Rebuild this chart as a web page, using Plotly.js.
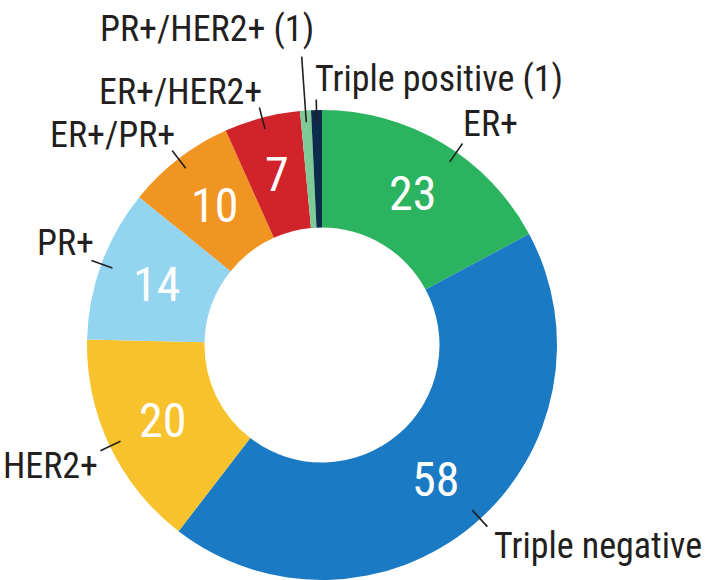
<!DOCTYPE html>
<html>
<head>
<meta charset="utf-8">
<script src="https://cdn.plot.ly/plotly-3.0.1.min.js"></script>
<style>
  html, body { margin: 0; padding: 0; background: #ffffff; }
  #chart { width: 709px; height: 580px; }
  #chart svg text { font-stretch: condensed; }
</style>
</head>
<body>
<div id="chart"></div>
<script>
// ---- data ----
var categories = ["ER+", "Triple negative", "HER2+", "PR+", "ER+/PR+", "ER+/HER2+", "PR+/HER2+", "Triple positive"];
var counts = [23, 58, 20, 14, 10, 7, 1, 1];
var sliceColors = ["#2bb35f", "#1a7bc4", "#f8c22c", "#93d4f1", "#f09522", "#d1232a", "#7fcb97", "#0c2b4b"];

// ---- style / layout config (not data) ----
var W = 709, H = 580;
var CX = 322, CY = 345, R = 235;       // pie centre & radius in pixels
var HOLE = 0.5;
var FONT = "'Roboto Condensed', 'DejaVu Sans Condensed', 'Liberation Sans Narrow', Roboto, sans-serif";
var INK = "#231f20";
// per-label placement: [xanchor, dx px, dy px (screen, down +), outer radius factor, angle nudge deg]
var labelPlace = [
  ["left", -1, -20, 1.045, 4],
  ["left", 5, 19, 1.045, -2],
  ["right", 0, 15, 1.045, 0],
  ["right", 5, -17, 1.045, 0],
  ["right", 5, -15, 1.045, 0],
  ["right", 5, -16, 1.045, 0],
  ["right", 14, -28, 1.23, 0],
  ["left", -3, -20, 1.045, 0]
];

function px(x) { return x / W; }
function py(y) { return (H - y) / H; }
function pt(thetaDeg, r) {
  var t = thetaDeg * Math.PI / 180;
  return [CX + r * Math.sin(t), CY - r * Math.cos(t)];
}

var total = counts.reduce(function (a, b) { return a + b; }, 0);
var annotations = [], shapes = [];
var cum = 0;
for (var i = 0; i < counts.length; i++) {
  var mid = (cum + counts[i] / 2) / total * 360;
  cum += counts[i];
  // inside value
  if (counts[i] > 1) {
    var c = pt(mid, R * (1 + HOLE) / 2);
    annotations.push({
      x: px(c[0]), y: py(c[1]), xref: "paper", yref: "paper",
      text: String(counts[i]), showarrow: false,
      xanchor: "center", yanchor: "middle",
      font: { family: FONT, size: 48, color: "#ffffff" }
    });
  }
  // leader line
  var p = labelPlace[i];
  var ang = mid + p[4];
  var a = pt(ang, R * 0.95), b = pt(ang, R * p[3]);
  shapes.push({
    type: "line", xref: "paper", yref: "paper",
    x0: px(a[0]), y0: py(a[1]), x1: px(b[0]), y1: py(b[1]),
    line: { color: INK, width: 1.6 }
  });
  var txt = categories[i] + (counts[i] > 1 ? "" : " (" + counts[i] + ")");
  annotations.push({
    x: px(b[0]), y: py(b[1]), xref: "paper", yref: "paper",
    xshift: p[1], yshift: -p[2],
    text: txt, showarrow: false,
    xanchor: p[0], yanchor: "middle",
    font: { family: FONT, size: 36, color: INK }
  });
}

var trace = {
  type: "pie",
  labels: categories,
  values: counts,
  sort: false,
  direction: "clockwise",
  rotation: 0,
  hole: HOLE,
  textinfo: "none",
  hoverinfo: "label+value",
  marker: { colors: sliceColors, line: { width: 0 } },
  domain: { x: [px(CX - R), px(CX + R)], y: [py(CY + R), py(CY - R)] },
  showlegend: false
};

var layout = {
  width: W, height: H,
  margin: { l: 0, r: 0, t: 0, b: 0 },
  paper_bgcolor: "#ffffff",
  showlegend: false,
  annotations: annotations,
  shapes: shapes
};

Plotly.newPlot("chart", [trace], layout, { displayModeBar: false, staticPlot: true });
</script>
</body>
</html>
